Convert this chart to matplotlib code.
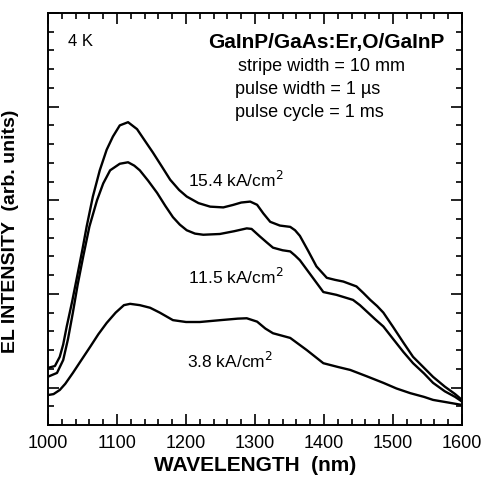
import numpy as np
import matplotlib
matplotlib.use("Agg")
import matplotlib.pyplot as plt
from matplotlib.ticker import MultipleLocator, NullFormatter

plt.rcParams['font.family'] = ['Liberation Sans', 'DejaVu Sans']

# EL spectra (wavelength in nm, intensity arb. units)
wl_154 = [1000, 1010, 1017, 1022, 1027, 1035, 1042, 1050, 1056, 1065, 1075, 1085, 1094, 1104,
          1116, 1129, 1140, 1152, 1165, 1177, 1190, 1201, 1218, 1235, 1254, 1268, 1280, 1293,
          1303, 1312, 1322, 1336, 1351, 1358, 1365, 1377, 1389, 1404, 1416, 1428, 1447, 1457,
          1467, 1477, 1486, 1500, 1515, 1529, 1545, 1558, 1575, 1590, 1600]
el_154 = [1.05, 1.15, 1.64, 2.3, 3.24, 4.6, 5.9, 7.4, 8.6, 10.2, 11.6, 12.7, 13.4, 14.0,
          14.17, 13.8, 13.2, 12.55, 11.8, 11.1, 10.55, 10.2, 9.85, 9.66, 9.62, 9.75, 9.88, 9.93,
          9.76, 9.3, 8.85, 8.65, 8.58, 8.4, 8.1, 7.3, 6.47, 5.86, 5.75, 5.66, 5.4, 5.05,
          4.68, 4.35, 4.0, 3.24, 2.4, 1.64, 1.05, 0.57, 0.05, -0.35, -0.66]

wl_115 = [1000, 1013, 1022, 1029, 1036, 1043, 1051, 1060, 1071, 1080, 1090, 1104, 1116, 1125,
          1133, 1145, 1158, 1170, 1181, 1191, 1201, 1213, 1225, 1249, 1270, 1288, 1295, 1307,
          1317, 1326, 1340, 1351, 1358, 1365, 1382, 1399, 1418, 1442, 1452, 1462, 1474, 1486,
          1500, 1515, 1529, 1545, 1558, 1575, 1590, 1600]
el_115 = [0.58, 0.78, 1.47, 2.6, 4.0, 5.5, 7.0, 8.6, 10.0, 10.9, 11.6, 11.95, 12.03, 11.85,
          11.6, 11.05, 10.4, 9.7, 9.1, 8.7, 8.4, 8.22, 8.16, 8.2, 8.35, 8.5, 8.47, 8.07,
          7.75, 7.47, 7.33, 7.27, 7.05, 6.8, 5.95, 5.1, 4.95, 4.68, 4.4, 4.06, 3.65, 3.26,
          2.6, 1.9, 1.3, 0.75, 0.25, -0.2, -0.5, -0.75]

wl_38 = [1000, 1008, 1017, 1025, 1036, 1048, 1061, 1073, 1085, 1098, 1110, 1119, 1133, 1148,
         1162, 1181, 1200, 1220, 1250, 1275, 1288, 1303, 1315, 1326, 1351, 1375, 1399, 1420,
         1438, 1462, 1486, 1505, 1525, 1545, 1558, 1580, 1600]
el_38 = [-0.4, -0.35, -0.13, 0.2, 0.78, 1.45, 2.17, 2.85, 3.45, 4.0, 4.4, 4.47, 4.4, 4.26,
         4.0, 3.6, 3.5, 3.5, 3.6, 3.68, 3.7, 3.52, 3.15, 2.9, 2.65, 2.0, 1.3, 1.1,
         0.94, 0.6, 0.25, -0.05, -0.3, -0.5, -0.66, -0.8, -0.93]

curve_labels = ["15.4 kA/cm$^2$", "11.5 kA/cm$^2$", "3.8 kA/cm$^2$"]

fig = plt.figure(figsize=(4.88, 4.84), dpi=100)
ax = fig.add_axes([0.0984, 0.1219, 0.8484, 0.8512])

for wl, el in [(wl_154, el_154), (wl_115, el_115), (wl_38, el_38)]:
    ax.plot(wl, el, color='black', lw=1.7, solid_joinstyle='round')

ax.set_xlim(1000, 1600)
ax.set_ylim(-2, 20)
ax.xaxis.set_major_locator(MultipleLocator(100))
ax.xaxis.set_minor_locator(MultipleLocator(20))
ax.yaxis.set_major_locator(MultipleLocator(5))
ax.yaxis.set_minor_locator(MultipleLocator(1))
ax.yaxis.set_major_formatter(NullFormatter())
ax.tick_params(which='both', direction='in', top=True, right=True, width=1.2)
ax.tick_params(which='major', length=8)
ax.tick_params(which='minor', length=4)
ax.tick_params(axis='x', labelsize=13, pad=7)
for s in ax.spines.values():
    s.set_linewidth(1.4)

ax.set_xlabel("WAVELENGTH  (nm)", fontsize=15, fontweight='bold', labelpad=3)
ax.set_ylabel("EL INTENSITY  (arb. units)", fontsize=14, fontweight='bold')
ax.yaxis.set_label_coords(-0.07, 0.47)

ax.text(1029, 18.23, "4 K", fontsize=12, va='baseline')
ax.text(1575, 18.14, "GaInP/GaAs:Er,O/GaInP", fontsize=15, fontweight='bold',
        ha='right', va='baseline')
ax.text(1275, 16.88, "stripe width = 10 mm", fontsize=13, va='baseline')
ax.text(1271, 15.65, "pulse width = 1 \u00b5s", fontsize=13, va='baseline')
ax.text(1271, 14.47, "pulse cycle = 1 ms", fontsize=13, va='baseline')

ax.text(1203, 10.73, curve_labels[0], fontsize=12.5, va='baseline')
ax.text(1203, 5.54, curve_labels[1], fontsize=12.5, va='baseline')
ax.text(1201, 1.05, curve_labels[2], fontsize=12.5, va='baseline')

fig.savefig("out.png", dpi=100)
